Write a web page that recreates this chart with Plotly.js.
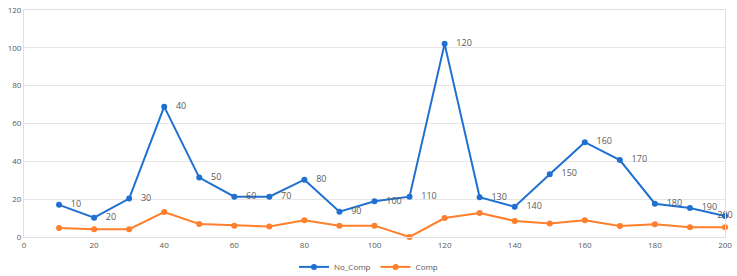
<!DOCTYPE html>
<html>
<head>
<meta charset="utf-8">
<script src="https://cdn.plot.ly/plotly-3.0.1.min.js"></script>
<style>html,body{margin:0;padding:0;background:#fff;}#chart{width:737px;height:276px;}</style>
</head>
<body>
<div id="chart"></div>
<script>
var xValues = [10,20,30,40,50,60,70,80,90,100,110,120,130,140,150,160,170,180,190,200];
var noCompValues = [17,10.2,20.3,68.9,31.4,21.3,21.3,30.3,13.4,18.9,21.3,102.1,21,16,33.2,50.1,40.7,17.6,15.3,11.1];
var compValues = [4.8,4.1,4.1,13.2,6.9,6,5.5,8.8,6,6,0,10,12.7,8.5,7.2,8.8,5.8,6.7,5.1,5.1];
var pointLabels = xValues.map(function (v) { return '   ' + v; });
var xTicks = [0,20,40,60,80,100,120,140,160,180,200];
var yTicks = [0,20,40,60,80,100,120];

var blue = '#1F70D0', orange = '#FF7F2A';
var positions = xValues.map(function (v, i) { return i === xValues.length - 1 ? 'middle center' : 'middle right'; });
pointLabels[pointLabels.length - 1] = String(xValues[xValues.length - 1]);
var traces = [
  {x: xValues, y: noCompValues, name: 'No_Comp', type: 'scatter', mode: 'lines+markers+text',
   text: pointLabels, textposition: positions, cliponaxis: false,
   textfont: {family: 'Open Sans, sans-serif', size: 9, color: '#595959'},
   line: {color: blue, width: 2}, marker: {color: blue, size: 6}},
  {x: xValues, y: compValues, name: 'Comp', type: 'scatter', mode: 'lines+markers', cliponaxis: false,
   line: {color: orange, width: 2}, marker: {color: orange, size: 6}}
];
var layout = {
  width: 737, height: 276,
  margin: {l: 24, r: 12, t: 10, b: 39},
  paper_bgcolor: '#fff', plot_bgcolor: '#fff',
  font: {family: 'Open Sans, sans-serif', size: 8, color: '#595959'},
  showlegend: true,
  legend: {orientation: 'h', x: 0.5, xref: 'container', xanchor: 'center', y: 0.033, yref: 'container', yanchor: 'middle',
           font: {size: 8, color: '#595959'}, itemwidth: 30, tracegroupgap: 0},
  xaxis: {range: [0, 200], tickvals: xTicks, ticktext: xTicks.map(String),
          showgrid: false, zeroline: false, showline: true, linecolor: '#e0e0e0', linewidth: 1, mirror: true,
          ticks: '', tickfont: {size: 8, color: '#595959'}},
  yaxis: {range: [0, 120], tickvals: yTicks, ticktext: yTicks.map(String),
          showgrid: true, gridcolor: '#e6e6e6', zeroline: false, showline: true, linecolor: '#e0e0e0', linewidth: 1, mirror: true,
          ticks: '', tickfont: {size: 8, color: '#595959'}}
};
Plotly.newPlot('chart', traces, layout, {displayModeBar: false, staticPlot: true});
</script>
</body>
</html>
